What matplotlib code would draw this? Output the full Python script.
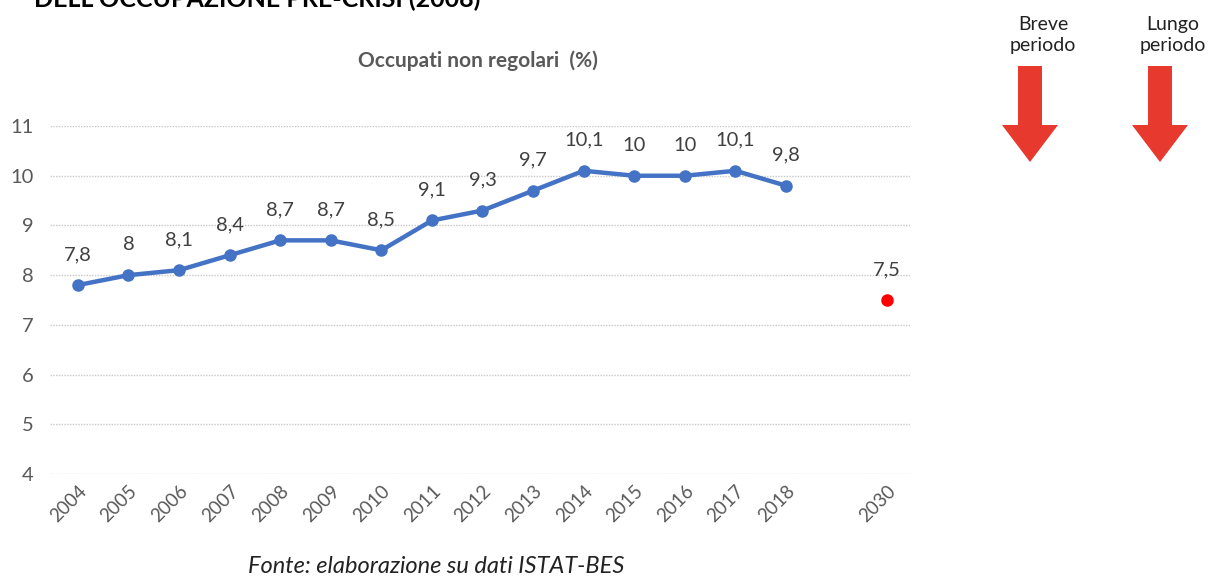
#!/usr/bin/env python3
import numpy as np
import matplotlib.pyplot as plt

plt.rcParams.update({
    "font.family": ["Lato", "DejaVu Sans"],
    "axes.spines.right": False,
    "axes.spines.top": False,
    "axes.spines.left": False,
    "axes.spines.bottom": False,
})

# data
years = ["2004", "2005", "2006", "2007", "2008", "2009", "2010", "2011",
         "2012", "2013", "2014", "2015", "2016", "2017", "2018"]
irregular = [7.8, 8.0, 8.1, 8.4, 8.7, 8.7, 8.5, 9.1, 9.3, 9.7, 10.1, 10.0, 10.0, 10.1, 9.8]
target_year = "2030"
target_value = 7.5
yticks = [4, 5, 6, 7, 8, 9, 10, 11]

TXT = "#595959"
BLUE = "#4472C4"
ARROW_RED = "#E8392E"


def fmt(v):
    return ("%g" % v).replace(".", ",")


def main():
    fig = plt.figure(figsize=(12.23, 5.77), dpi=100)
    ax = fig.add_axes([0.0409, 0.1785, 0.7031, 0.6031])

    x = np.arange(len(years))
    x_target = len(years) + 1  # one empty category before 2030

    ax.plot(x, irregular, color=BLUE, lw=3.2, marker="o", ms=8,
            solid_capstyle="round", zorder=3)
    ax.plot([x_target], [target_value], "o", color="#FF0000", ms=8, zorder=3)

    for xi, v in zip(x, irregular):
        ax.annotate(fmt(v), (xi, v), xytext=(0, 22), textcoords="offset points",
                    ha="center", va="center", fontsize=14.5, color="#404040")
    ax.annotate(fmt(target_value), (x_target, target_value), xytext=(0, 22),
                textcoords="offset points", ha="center", va="center",
                fontsize=14.5, color="#404040")

    ax.set_xlim(-0.55, 16.45)
    ax.set_ylim(4, 11)
    ax.set_yticks(yticks)
    ax.set_yticklabels([str(t) for t in yticks], color=TXT, fontsize=14.5)
    ax.set_xticks(list(x) + [x_target])
    ax.set_xticklabels(years + [target_year], rotation=45, ha="right",
                       rotation_mode="anchor", color=TXT, fontsize=13.5)
    ax.tick_params(axis="both", length=0)
    ax.tick_params(axis="y", pad=12)
    ax.tick_params(axis="x", pad=6)
    ax.yaxis.grid(True, color="#c8c8c8", lw=1, ls=(0, (1, 1)))
    ax.set_axisbelow(True)

    fig.text(0.391, 0.895, "Occupati non regolari  (%)", ha="center", va="center",
             fontsize=15, color=TXT, fontweight="bold")
    fig.text(0.357, 0.019, "Fonte: elaborazione su dati ISTAT-BES", ha="center",
             va="center", fontsize=17, style="italic", color="#222222")
    # header cut off at the top of the page
    fig.text(0.028, 1 - 7 / 577, "DELL\u2019OCCUPAZIONE PRE-CRISI (2008)", ha="left",
             va="baseline", fontsize=18, fontweight="bold", color="black")

    # arrows at the right
    ov = fig.add_axes([0, 0, 1, 1], facecolor="none")
    ov.set_xlim(0, 1223)
    ov.set_ylim(577, 0)
    ov.axis("off")
    for cx, lab in [(1030, "Breve\nperiodo"), (1160, "Lungo\nperiodo")]:
        ov.text(cx + 13, 35, lab, ha="center", va="center", fontsize=14,
                color="#222222", linespacing=1.3)
        ov.add_patch(plt.Polygon(
            [(cx - 12, 66), (cx + 12, 66), (cx + 12, 125), (cx + 28, 125),
             (cx, 162), (cx - 28, 125), (cx - 12, 125)],
            closed=True, color=ARROW_RED, lw=0))

    fig.savefig("out.png", dpi=100)


if __name__ == "__main__":
    main()
